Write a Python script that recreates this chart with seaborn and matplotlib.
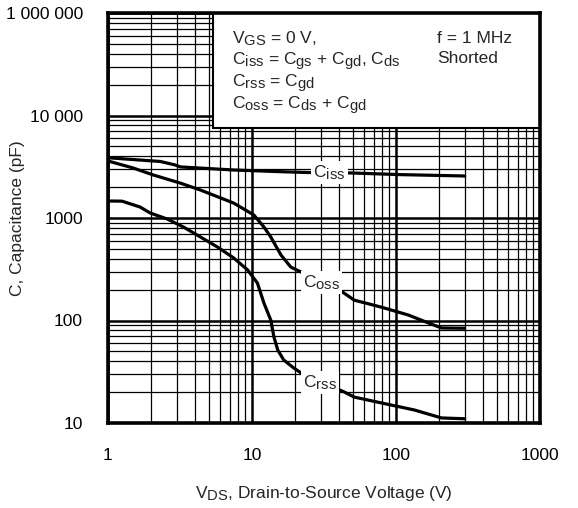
import numpy as np
import pandas as pd
import matplotlib
matplotlib.use("Agg")
import matplotlib.pyplot as plt
import matplotlib.ticker as mticker
import matplotlib._mathtext as mathtext_internal
from matplotlib.patches import Rectangle
import seaborn as sns

# Capacitance vs drain-source voltage
vds_iss = [1.0, 2.31, 2.93, 3.18, 7.45, 15.8, 24, 48.8, 107, 300]
c_iss = [3870, 3560, 3290, 3150, 2940, 2830, 2780, 2750, 2650, 2570]

vds_oss = [1.0, 1.49, 2.06, 3.18, 4.38, 7.45, 10.3, 12.1, 13.5, 15.9, 18.6, 21.9,
           43.6, 51.3, 79, 122, 168, 207, 300]
c_oss = [3600, 3080, 2630, 2190, 1875, 1400, 1070, 817, 653, 435, 332, 297,
         185, 158, 135, 113, 94.6, 84.5, 84]

vds_rss = [1.0, 1.25, 1.67, 1.96, 2.58, 3.34, 4.38, 5.76, 7.45, 9.33, 10.9, 12.1,
           13.5, 14.2, 15.1, 16.6, 19.5, 21.9, 43.6, 51.3, 79, 134, 207, 300]
c_rss = [1465, 1460, 1280, 1120, 977, 817, 653, 521, 408, 311, 232, 148,
         101, 69, 51.5, 41.2, 34.4, 30.8, 20.1, 17.9, 15.7, 13.4, 11.2, 11.0]

x_ticks = [1, 10, 100, 1000]
x_ticklabels = ["1", "10", "100", "1000"]
y_ticks = [10, 100, 1000, 10000, 100000]
y_ticklabels = ["10", "100", "1000", "10 000", "1 000 000"]

sns.set_style("white")
plt.rcParams["font.family"] = ["Liberation Sans", "DejaVu Sans"]
plt.rcParams["mathtext.fontset"] = "custom"
plt.rcParams["mathtext.rm"] = "Liberation Sans"
plt.rcParams["mathtext.it"] = "Liberation Sans"
# datasheet subscripts are nearly full size
mathtext_internal.SHRINK_FACTOR = 0.85

fig = plt.figure(figsize=(5.78, 5.08), dpi=100)
ax = fig.add_axes([108 / 578, 1 - 423 / 508, 432 / 578, 410 / 508])

for xs, ys in [(vds_iss, c_iss), (vds_oss, c_oss), (vds_rss, c_rss)]:
    sns.lineplot(x=xs, y=ys, ax=ax, color="black", lw=2.3, sort=False,
                 estimator=None, zorder=4)

ax.set_xscale("log")
ax.set_yscale("log")
ax.set_xlim(1, 1000)
ax.set_ylim(10, 100000)

ax.xaxis.set_major_locator(mticker.FixedLocator(x_ticks))
ax.xaxis.set_major_formatter(mticker.FixedFormatter(x_ticklabels))
ax.yaxis.set_major_locator(mticker.FixedLocator(y_ticks))
ax.yaxis.set_major_formatter(mticker.FixedFormatter(y_ticklabels))
for axis in (ax.xaxis, ax.yaxis):
    axis.set_minor_locator(mticker.LogLocator(base=10, subs=np.arange(2, 10)))
    axis.set_minor_formatter(mticker.NullFormatter())

ax.grid(which="major", color="black", lw=1.8)
ax.grid(which="minor", color="black", lw=0.9)
ax.set_axisbelow(True)
ax.tick_params(which="both", direction="in", colors="black", labelsize=12.5, pad=18)
ax.tick_params(which="major", length=0)
ax.tick_params(which="minor", length=5, width=1.6)

for sp in ax.spines.values():
    sp.set_linewidth(2.6)
    sp.set_color("black")
    sp.set_zorder(6)

ax.set_xlabel("V$_{\\mathregular{DS}}$, Drain-to-Source Voltage (V)", fontsize=12.5)
ax.set_ylabel("C, Capacitance (pF)", fontsize=12.5)
ax.xaxis.set_label_coords(0.5, -0.149)
ax.yaxis.set_label_coords(-0.192, 0.5)

# Conditions box in the top right
ax.add_patch(Rectangle((0.243, 0.72), 0.757, 0.28, transform=ax.transAxes,
                       facecolor="white", edgecolor="black", lw=1.5, zorder=3))
box_lines = [
    "V$_{\\mathregular{GS}}$ = 0 V,",
    "C$_{\\mathregular{iss}}$ = C$_{\\mathregular{gs}}$ + C$_{\\mathregular{gd}}$, C$_{\\mathregular{ds}}$",
    "C$_{\\mathregular{rss}}$ = C$_{\\mathregular{gd}}$",
    "C$_{\\mathregular{oss}}$ = C$_{\\mathregular{ds}}$ + C$_{\\mathregular{gd}}$",
]
for yy, s in zip([0.927, 0.873, 0.820, 0.766], box_lines):
    ax.text(0.287, yy, s, transform=ax.transAxes, fontsize=12.5, va="baseline", zorder=5)
ax.text(0.762, 0.927, "f = 1 MHz", transform=ax.transAxes, fontsize=12.5, va="baseline", zorder=5)
ax.text(0.762, 0.878, "Shorted", transform=ax.transAxes, fontsize=12.5, va="baseline", zorder=5)

# Curve labels with white background breaking the lines
for xx, yy, s in [(0.475, 0.600, "C$_{\\mathregular{iss}}$"),
                  (0.451, 0.332, "C$_{\\mathregular{oss}}$"),
                  (0.451, 0.088, "C$_{\\mathregular{rss}}$")]:
    ax.text(xx, yy, s, transform=ax.transAxes, fontsize=12.5, va="baseline", zorder=5,
            bbox=dict(facecolor="white", edgecolor="none", pad=1.5))

fig.savefig("out.png", dpi=100)
